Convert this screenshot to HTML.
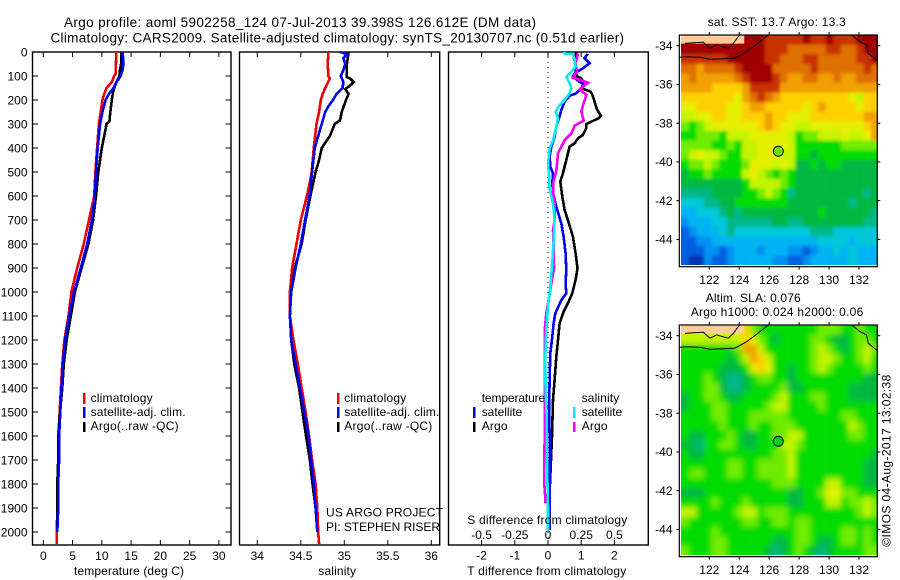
<!DOCTYPE html>
<html lang="en">
<head>
<meta charset="utf-8">
<title>Argo profile 5902258_124</title>
<style>
html,body{margin:0;padding:0;background:#fff;width:900px;height:580px;overflow:hidden}
svg{display:block}
text{font-family:"Liberation Sans",sans-serif;font-size:12px;fill:#000}
text.big{font-size:13.5px}
</style>
</head>
<body>
<svg id="chart" xmlns="http://www.w3.org/2000/svg" width="900" height="580" viewBox="0 0 900 580">
  <defs>
    <filter id="blur-sst" x="-5%" y="-5%" width="110%" height="110%"><feGaussianBlur stdDeviation="1.6"/></filter>
    <filter id="blur-sla" x="-5%" y="-5%" width="110%" height="110%"><feGaussianBlur stdDeviation="3"/></filter>
    <clipPath id="clip-sst"><rect x="681" y="35" width="196.3" height="230"/></clipPath>
    <clipPath id="clip-sla"><rect x="681" y="325" width="196.3" height="230"/></clipPath>
  </defs>
  <text class="big" x="64" y="27" textLength="472" lengthAdjust="spacing">Argo profile: aoml 5902258_124 07-Jul-2013 39.398S 126.612E (DM data)</text>
  <text class="big" x="50.5" y="42.5" textLength="573.5" lengthAdjust="spacing">Climatology: CARS2009. Satellite-adjusted climatology: synTS_20130707.nc (0.51d earlier)</text>
  <g id="layer-plots"></g>
  <g id="layer-maps"></g>

  <text x="74" y="575" textLength="110" lengthAdjust="spacing">temperature (deg C)</text>
  <text x="318.3" y="575" textLength="37.7" lengthAdjust="spacing">salinity</text>
  <text x="467.3" y="575" textLength="159" lengthAdjust="spacing">T difference from climatology</text>
  <text x="467.3" y="524" textLength="160" lengthAdjust="spacing">S difference from climatology</text>

  <g>
    <rect x="83" y="393" width="2.5" height="11" fill="#f00000"/>
    <rect x="83" y="407" width="2.5" height="11" fill="#0000f0"/>
    <rect x="83" y="422" width="2.5" height="10" fill="#000"/>
    <text x="90.6" y="402" textLength="62" lengthAdjust="spacing">climatology</text>
    <text x="90.6" y="416" textLength="95" lengthAdjust="spacing">satellite-adj. clim.</text>
    <text x="90.6" y="430" textLength="88" lengthAdjust="spacing">Argo(..raw -QC)</text>
  </g>
  <g>
    <rect x="337" y="393" width="2.5" height="11" fill="#f00000"/>
    <rect x="337" y="407" width="2.5" height="11" fill="#0000f0"/>
    <rect x="337" y="422" width="2.5" height="10" fill="#000"/>
    <text x="344.3" y="402" textLength="62" lengthAdjust="spacing">climatology</text>
    <text x="344.3" y="416" textLength="95" lengthAdjust="spacing">satellite-adj. clim.</text>
    <text x="344.3" y="430" textLength="88" lengthAdjust="spacing">Argo(..raw -QC)</text>
    <text x="326" y="516.7" textLength="117" lengthAdjust="spacing">US ARGO PROJECT</text>
    <text x="326" y="531" textLength="114" lengthAdjust="spacing">PI: STEPHEN RISER</text>
  </g>
  <g>
    <text x="481.7" y="402" textLength="63.5" lengthAdjust="spacing">temperature</text>
    <text x="481.7" y="416" textLength="40.5" lengthAdjust="spacing">satellite</text>
    <text x="481.7" y="430" textLength="25.8" lengthAdjust="spacing">Argo</text>
    <text x="581.7" y="402" textLength="37.5" lengthAdjust="spacing">salinity</text>
    <text x="581.7" y="416" textLength="40.5" lengthAdjust="spacing">satellite</text>
    <text x="581.7" y="430" textLength="25.8" lengthAdjust="spacing">Argo</text>
    <rect x="473" y="407" width="2.5" height="11" fill="#0000f0"/>
    <rect x="473" y="422" width="2.5" height="10" fill="#000"/>
    <rect x="573" y="407" width="2.5" height="11" fill="#00f0f0"/>
    <rect x="573" y="422" width="2.5" height="10" fill="#f000f0"/>
  </g>

  <text x="707.7" y="26" textLength="138" lengthAdjust="spacing">sat. SST: 13.7 Argo: 13.3</text>
  <text x="705.7" y="302" textLength="95" lengthAdjust="spacing">Altim. SLA: 0.076</text>
  <text x="690.7" y="316" textLength="172.6" lengthAdjust="spacing">Argo h1000: 0.024 h2000: 0.06</text>
  <text transform="translate(890.7 546.7) rotate(-90)" x="0" y="0" textLength="172" lengthAdjust="spacing">©IMOS 04-Aug-2017 13:02:38</text>
</svg>

<script>
// ---- profile data ----
const depthTicks = [0,100,200,300,400,500,600,700,800,900,1000,1100,1200,1300,1400,1500,1600,1700,1800,1900,2000];
const tempTicks = [0,5,10,15,20,25,30];
const salTicks = [34,34.5,35,35.5,36];
const salTickLabels = ['34','34.5','35','35.5','36'];
const tDiffTicks = [-2,-1,0,1,2];
const sDiffTicks = [-0.5,-0.25,0,0.25,0.5];
const sDiffTickLabels = ['-0.5','-0.25','0','0.25','0.5'];

const tempClimDepth = [0,50,90,100,125,150,175,200,250,300,400,500,600,700,800,900,1000,1100,1200,1300,1400,1500,1600,1700,1800,1900,2000,2050];
const tempClim = [12.5,12.4,12.4,12.1,11.7,10.8,10.4,10.1,9.8,9.5,9.2,8.9,8.7,7.8,6.9,5.8,4.8,4.3,3.6,3.25,3.0,2.8,2.55,2.55,2.4,2.4,2.3,2.3];
const tempSatDepth = [0,50,75,100,125,150,175,200,250,300,400,500,600,700,800,900,1000,1100,1200,1300,1400,1500,1600,1700,1800,1900,2000];
const tempSat = [13.55,13.7,13.55,13.2,12.5,12.0,11.2,10.65,10.1,9.7,9.3,9.0,8.8,8.3,7.5,6.4,5.25,4.4,3.75,3.35,3.1,2.9,2.7,2.7,2.55,2.55,2.4];
const tempArgoDepth = [0,50,75,100,125,150,175,200,250,290,300,350,400,450,500,600,700,800,900,1000,1100,1200,1300,1400,1500,1600,1700,1800,1900,2000];
const tempArgo = [13.3,13.3,13.1,13,12.5,12.1,11.85,11.7,11.45,11.3,10.8,10.4,10,9.7,9.4,9,8.5,7.7,6.55,5.4,4.7,4,3.5,3.25,2.85,2.6,2.55,2.4,2.4,2.4];

const salClimDepth = [0,50,100,110,150,175,200,250,300,400,500,550,600,700,800,900,1000,1100,1200,1300,1400,1500,1600,1700,1800,1900,2000,2050];
const salClim = [34.816,34.81,34.816,34.835,34.78,34.75,34.73,34.71,34.68,34.65,34.625,34.6,34.57,34.5,34.45,34.4,34.375,34.375,34.415,34.465,34.51,34.555,34.595,34.63,34.67,34.69,34.7,34.71];
const salSatDepth = [0,10,25,50,75,100,125,150,175,200,225,250,300,350,400,500,600,700,800,900,1000,1100,1200,1300,1400,1500,1600,1700,1800,1900,2000];
const salSat = [34.95,35.04,34.99,35.01,34.99,34.96,34.99,34.98,34.91,34.87,34.82,34.78,34.74,34.70,34.66,34.63,34.60,34.55,34.50,34.44,34.39,34.375,34.39,34.44,34.49,34.54,34.59,34.62,34.65,34.67,34.69];
const salArgoDepth = [0,50,105,110,125,140,155,175,200,250,285,300,350,400,450,500,600,700,800,900,1000,1100,1200,1300,1400,1500,1600,1700,1800,1900,2000];
const salArgo = [35.05,35.03,35.03,35.065,35.11,35.065,35.01,35.05,35.02,34.97,34.95,34.89,34.835,34.74,34.71,34.67,34.61,34.555,34.51,34.43,34.39,34.375,34.39,34.425,34.48,34.52,34.56,34.605,34.635,34.67,34.69];

const tDiffArgoDepth = [0,25,50,75,100,110,125,140,150,165,180,200,225,240,265,275,290,300,318,346,360,381,394,450,506,540,603,658,714,769,839,901,950,1006,1047,1082,1131,1200,1270,1367,1450,1603,1825,1992];
const tDiffArgo = [.87,.78,.82,.83,.87,1.0,1.07,1.05,1.0,1.28,1.34,1.39,1.44,1.48,1.59,1.54,1.31,1.15,1.15,1.05,.90,.80,.65,.55,.45,.37,.43,.50,.63,.75,.83,.89,.83,.73,.60,.47,.35,.30,.25,.20,.15,.12,.05,.03];
const tDiffSatDepth = [8,26,47,68,89,103,124,131,144,172,183,207,242,276,311,353,394,436,478,506,547,589,644,714,769,839,908,964,1006,1034,1089,1131,1186,1256,1353,1478,1617,1825,1992];
const tDiffSat = [1.20,1.10,1.25,1.05,.80,.75,.95,1.05,1.07,.85,.65,.50,.40,.33,.25,.20,.10,.05,.07,.15,.13,.15,.25,.40,.47,.53,.55,.53,.55,.40,.22,.17,.13,.07,.05,.03,.05,.05,.05];
const sDiffSatDepth = [6,8,33,61,82,103,131,151,172,200,221,249,276,325,367,401,464,519,575,631,700,783,867,978,1061,1159,1270,1409,1548,1687,1895,1992];
const sDiffSat = [.113,.188,.2,.208,.176,.138,.163,.176,.163,.126,.088,.058,.075,.058,.038,.013,0,.008,.013,.038,.05,.043,.033,.018,0,-.013,-.02,-.018,-.008,-.008,0,0];
const sDiffArgoDepth = [6,47,82,107,128,156,179,221,249,286,307,339,367,422,492,547,589,631,700,742,811,901,1089,1159,1242,1381,1548,1798,1881];
const sDiffArgo = [.226,.208,.218,.188,.301,.238,.289,.264,.251,.269,.2,.176,.126,.075,.063,.038,.038,.05,.05,.038,.043,.045,-.013,-.025,-.025,-.023,-.025,-.028,-.018];

// ---- map data: colour levels on half-degree cells, null = land ----
const mapLonTicks = [122,124,126,128,130,132];
const mapLatTicks = [-34,-36,-38,-40,-42,-44];
const sstLevels = [
[null,null,null,null,null,null,null,null,15,15,15,14,14,14,14,14,15,14,14,15,14,14,14,15,15,15],
[15,15,15,15,15,15,15,15,15,15,15,14,14,14,13,13,13,13,13,14,14,13,13,14,15,15],
[14,14,14,14,14,14,15,15,15,15,15,14,14,13,13,13,14,14,13,13,13,13,13,14,14,15],
[13,13,12,13,13,13,13,14,15,15,15,15,13,13,13,13,13,14,13,13,13,13,13,13,14,13],
[12,13,12,12,12,12,12,13,14,15,15,15,14,13,12,12,13,13,12,12,13,12,12,13,13,13],
[12,12,12,12,11,11,11,11,12,14,14,14,14,12,12,12,12,12,12,12,12,12,12,12,12,12],
[11,11,11,11,11,11,11,10,12,13,14,13,12,11,11,11,11,11,11,11,11,11,10,9,11,11],
[10,10,11,11,11,11,10,10,11,12,12,11,11,11,11,11,10,11,12,11,11,11,11,10,11,11],
[9,9,10,10,11,11,10,10,11,11,11,12,11,11,10,10,10,11,11,11,11,11,11,11,12,12],
[8,7,8,9,10,10,10,10,10,10,11,12,11,10,10,9,9,10,10,10,10,10,10,10,11,12],
[7,7,8,8,8,7,9,9,9,10,10,10,10,10,9,7,8,8,9,9,9,10,9,9,10,12],
[8,8,8,8,7,7,8,7,9,9,10,10,10,10,9,7,7,7,7,7,7,8,8,8,8,8],
[8,9,10,9,9,8,7,7,9,9,10,10,10,9,9,7,7,6,7,7,7,7,7,7,7,7],
[7,8,8,9,8,7,7,7,8,10,10,10,9,10,9,6,6,7,6,7,7,6,6,6,6,6],
[6,7,7,8,7,7,7,7,9,10,9,8,7,8,7,6,6,6,6,6,6,6,6,6,6,6],
[6,6,6,6,6,6,6,6,7,9,9,9,9,8,7,6,6,6,6,6,6,6,6,6,6,6],
[5,5,5,5,6,6,6,6,7,7,8,9,8,7,5,6,6,6,6,6,6,6,6,6,5,6],
[4,4,4,5,5,6,6,7,7,7,7,7,7,7,6,6,6,6,6,6,6,6,5,6,6,6],
[3,3,4,4,4,5,6,5,6,6,6,6,6,6,6,6,6,6,7,6,6,6,6,6,6,5],
[2,3,3,3,4,4,5,5,5,5,5,5,6,6,5,5,6,6,6,6,6,6,6,6,5,5],
[1,2,3,3,3,4,5,4,4,4,4,4,4,4,4,4,4,5,5,5,4,4,4,4,4,4],
[1,1,2,2,3,3,3,3,3,3,3,3,3,3,3,3,3,3,4,4,4,4,3,4,4,4],
[1,1,1,2,2,1,2,3,3,3,2,3,3,3,2,2,1,2,3,3,4,3,4,3,3,3],
[1,0,0,2,1,1,2,3,3,3,3,3,2,2,1,1,2,3,3,3,3,3,4,3,3,3]
];
const slaLevels = [
[null,null,null,null,null,null,null,null,11,8,7,7,7,7,7,7,7,7,8,8,8,7,7,8,7,7],
[9,9,9,9,9,9,9,9,11,10,8,7,6,7,7,7,7,8,8,7,6,6,7,8,8,7],
[7,7,7,7,7,7,7,8,12,12,9,7,7,7,7,7,7,8,9,8,7,6,7,8,9,8],
[7,7,7,7,7,7,6,7,9,12,11,9,7,7,7,7,7,8,9,9,8,7,7,8,9,7],
[7,7,7,7,7,6,6,6,7,10,11,10,7,7,6,7,7,8,9,8,7,7,7,7,8,7],
[7,7,7,8,7,6,5,5,6,7,8,8,7,7,6,7,7,7,7,7,7,7,7,7,6,6],
[7,7,7,8,8,6,5,5,6,7,7,7,7,8,6,6,7,7,7,7,7,7,6,6,6,6],
[6,7,7,8,8,7,6,6,7,7,7,7,8,9,7,7,7,8,8,7,7,7,6,6,6,6],
[6,7,7,7,8,8,7,7,7,7,7,8,9,9,7,7,7,7,8,7,7,7,7,7,7,7],
[7,7,7,7,8,8,7,7,7,8,8,8,8,8,7,7,7,7,7,7,7,8,8,7,7,7],
[7,7,7,7,7,8,7,7,7,8,7,7,8,8,8,7,7,7,7,7,7,7,9,8,7,7],
[7,6,6,7,7,7,8,7,6,6,7,7,8,8,9,9,7,7,7,7,7,7,8,8,7,7],
[6,6,5,7,7,8,8,7,6,6,7,7,7,9,9,8,7,7,7,7,7,7,7,7,7,7],
[7,6,6,7,7,7,7,7,7,7,7,7,8,8,9,7,7,7,7,7,7,7,7,7,7,6],
[7,7,7,7,7,7,8,8,7,7,8,8,8,8,9,7,7,7,7,7,7,7,7,7,6,6],
[7,8,8,7,7,7,8,8,7,7,8,8,8,8,9,7,7,7,7,7,7,7,7,7,6,6],
[7,7,7,7,7,7,7,7,7,7,7,7,8,8,8,7,7,7,7,9,9,7,7,7,6,6],
[6,6,6,7,7,7,7,7,7,7,7,7,7,7,6,6,7,7,8,10,10,8,8,7,7,7],
[7,7,7,7,8,7,7,7,8,7,7,7,7,7,6,6,7,7,7,9,9,7,8,8,9,8],
[9,9,7,7,7,7,7,8,9,9,7,8,8,8,7,7,7,7,7,7,7,7,7,8,9,8],
[8,7,7,7,7,7,7,7,8,8,7,7,8,8,7,8,8,7,7,7,7,7,7,7,7,7],
[7,7,7,7,8,7,7,7,7,7,7,7,7,7,7,8,8,7,7,7,7,8,8,7,8,7],
[7,7,7,7,8,8,7,7,7,7,7,7,6,6,7,8,8,7,6,6,7,8,8,7,8,7],
[8,7,7,7,8,8,7,7,7,7,7,6,5,6,7,8,7,6,5,6,7,7,7,7,8,8]
];
const coastSouthLon = [120.0,120.49,121.38,122.05,122.94,123.72,124.5,125.39,125.94];
const coastSouthLat = [-34.6,-34.57,-34.6,-34.7,-34.67,-34.64,-34.31,-33.79,-33.45];
const coastNorthLon = [120.38,120.93,121.6,122.05,122.49,123.27,123.6,123.94,124.05];
const coastNorthLat = [-33.88,-33.85,-33.82,-34.13,-33.96,-34.13,-33.88,-33.53,-33.45];
const coastEastLon = [131.51,132.07,132.51,132.62,133.22];
const coastEastLat = [-33.45,-33.79,-33.96,-34.39,-34.77];
const argoLon = 126.612;
const argoLat = -39.45;

// ---- scales ----
const SVGNS = 'http://www.w3.org/2000/svg';
const plotTop = 52, plotBottom = 545;
const yDepth = d => plotTop + d * 0.24;
const xTemp = v => 43.3 + v * 5.853;
const xSal = v => 257.3 + (v - 34) * 87;
const xTDiff = v => 548 + v * 33.2;
const xSDiff = v => 548 + v * 33.2 * 4;
const xLon = lon => 709.3 + (lon - 122) * 14.97;
const yLat = (lat, top) => top + 10.7 + (-34 - lat) * 19.37;
const levelColours = ['#0030b4','#0060e0','#0090f0','#00b4f4','#00c8d8','#00b888','#00b840','#00dc00','#70ec00','#c4f400','#e4f000','#ffd000','#f0a000','#e07000','#c83000','#a00000'];
const levelColour = l => l === null ? '#ffcc99' : levelColours[l];

const plots = document.getElementById('layer-plots');
const maps = document.getElementById('layer-maps');
function node(parent, tag, attrs, txt) {
  const el = document.createElementNS(SVGNS, tag);
  for (const k in attrs) el.setAttribute(k, attrs[k]);
  if (txt !== undefined) el.textContent = txt;
  parent.appendChild(el);
  return el;
}
function polyPoints(xs, ys, fx, fy) {
  const n = Math.min(xs.length, ys.length), p = [];
  for (let i = 0; i < n; i++) p.push(fx(xs[i]).toFixed(1) + ',' + fy(ys[i]).toFixed(1));
  return p.join(' ');
}
function drawProfile(values, depths, fx, colour, name) {
  const el = node(plots, 'polyline', {points: polyPoints(values, depths, fx, yDepth), fill: 'none', stroke: colour, 'stroke-width': 2.6, 'shape-rendering': 'crispEdges'});
  
  
}
function drawFrame(x0, x1, name) {
  const el = node(plots, 'rect', {x: x0, y: plotTop, width: x1 - x0, height: plotBottom - plotTop, fill: 'none', stroke: '#000', 'stroke-width': 1.4});
  
  
}
function drawXTicks(ticks, labels, fx, labelY, top, bottom, name) {
  ticks.forEach((t, i) => {
    const x = fx(t);
    if (top) {
      const a = node(plots, 'line', {x1: x, x2: x, y1: plotTop, y2: plotTop + 5, stroke: '#000'});
      
      
    }
    if (bottom) {
      const b = node(plots, 'line', {x1: x, x2: x, y1: plotBottom, y2: plotBottom - 5, stroke: '#000'});
      
      
    }
    const lab = node(plots, 'text', {x: x, y: labelY, 'text-anchor': 'middle'}, labels[i]);
    
    
  });
}

// ---- profile panels ----
drawFrame(32.5, 231, 'temperature-panel-frame');
drawFrame(239.5, 439.7, 'salinity-panel-frame');
drawFrame(448.5, 648.3, 'difference-panel-frame');

depthTicks.forEach(d => {
  const y = yDepth(d);
  const l = node(plots, 'line', {x1: 32.5, x2: 38, y1: y, y2: y, stroke: '#000'});
  
  
  const r = node(plots, 'line', {x1: 225.5, x2: 231, y1: y, y2: y, stroke: '#000'});
  
  
  const lab = node(plots, 'text', {x: 27.5, y: y + 4.3, 'text-anchor': 'end'}, String(d));
  
  
});
drawXTicks(tempTicks, tempTicks.map(String), xTemp, 560, true, true, 'temperature');
drawXTicks(salTicks, salTickLabels, xSal, 560, true, true, 'salinity');
drawXTicks(tDiffTicks, tDiffTicks.map(String), xTDiff, 559.5, true, true, 't-difference');
drawXTicks(sDiffTicks, sDiffTickLabels, xSDiff, 539, false, false, 's-difference');

const zeroLine = node(plots, 'line', {x1: xTDiff(0), x2: xTDiff(0), y1: plotTop, y2: plotBottom, stroke: '#000', 'stroke-dasharray': '1 4'});



drawProfile(tempClim, tempClimDepth, xTemp, '#f00000', 'temperature-climatology-line');
drawProfile(tempArgo, tempArgoDepth, xTemp, '#000000', 'temperature-argo-line');
drawProfile(tempSat, tempSatDepth, xTemp, '#0000f0', 'temperature-satellite-line');
drawProfile(salClim, salClimDepth, xSal, '#f00000', 'salinity-climatology-line');
drawProfile(salArgo, salArgoDepth, xSal, '#000000', 'salinity-argo-line');
drawProfile(salSat, salSatDepth, xSal, '#0000f0', 'salinity-satellite-line');
drawProfile(tDiffArgo, tDiffArgoDepth, xTDiff, '#000000', 't-difference-argo-line');
drawProfile(tDiffSat, tDiffSatDepth, xTDiff, '#0000f0', 't-difference-satellite-line');
drawProfile(sDiffArgo, sDiffArgoDepth, xSDiff, '#f000f0', 's-difference-argo-line');
drawProfile(sDiffSat, sDiffSatDepth, xSDiff, '#00f0f0', 's-difference-satellite-line');

// ---- maps ----
const lonStart = 120.12, lonStep = 0.508, latStart = -33.45, latStep = 0.495;
function drawMap(levels, top, name, dotColour, blurId, clipId) {
  const frameH = 231.7;
  const clipGroup = node(maps, 'g', {'clip-path': 'url(#' + clipId + ')'});
  
  
  const blurGroup = node(clipGroup, 'g', {filter: 'url(#' + blurId + ')'});
  
  
  const lastRow = levels.length - 1;
  levels.forEach((row, r) => {
    const lastCol = row.length - 1;
    row.forEach((lvl, c) => {
      let x0 = xLon(lonStart + c * lonStep), x1 = xLon(lonStart + (c + 1) * lonStep);
      let y0 = yLat(latStart - r * latStep, top), y1 = yLat(latStart - (r + 1) * latStep, top);
      if (c === 0) x0 -= 8;
      if (c === lastCol) x1 += 8;
      if (r === 0) y0 -= 8;
      if (r === lastRow) y1 += 8;
      const shown = lvl === null ? levels[r + 1][c] : lvl;
      const cell = node(blurGroup, 'rect', {x: x0.toFixed(2), y: y0.toFixed(2), width: (x1 - x0 + 0.3).toFixed(2), height: (y1 - y0 + 0.3).toFixed(2), fill: levelColour(shown)});
      
      
    });
  });
  levels.forEach((row, r) => {
    row.forEach((lvl, c) => {
      if (lvl !== null) return;
      const x0 = xLon(lonStart + c * lonStep), x1 = xLon(lonStart + (c + 1) * lonStep);
      const y0 = yLat(latStart - r * latStep, top), y1 = yLat(latStart - (r + 1) * latStep, top);
      const land = node(clipGroup, 'rect', {x: (c === 0 ? x0 - 2 : x0).toFixed(2), y: y0.toFixed(2), width: (x1 - x0 + 2.3).toFixed(2), height: (y1 - y0 - 1).toFixed(2), fill: levelColour(null)});
      
      
    });
  });
  const coasts = [[coastSouthLon, coastSouthLat, 'south'], [coastNorthLon, coastNorthLat, 'north'], [coastEastLon, coastEastLat, 'east']];
  coasts.forEach(cs => {
    const line = node(maps, 'polyline', {points: polyPoints(cs[0], cs[1], xLon, la => yLat(la, top)), fill: 'none', stroke: '#000', 'stroke-width': 1});
    
    
  });
  const frame = node(maps, 'rect', {x: 679.3, y: top, width: 198, height: frameH, fill: 'none', stroke: '#000', 'stroke-width': 1.2});
  
  
  const dot = node(maps, 'circle', {cx: xLon(argoLon), cy: yLat(argoLat, top), r: 5, fill: dotColour, stroke: '#000', 'stroke-width': 1});
  
  
  mapLonTicks.forEach(lon => {
    const x = xLon(lon);
    const t1 = node(maps, 'line', {x1: x, x2: x, y1: top - 3, y2: top, stroke: '#000'});
    
    
    const t2 = node(maps, 'line', {x1: x, x2: x, y1: top + frameH, y2: top + frameH + 3, stroke: '#000'});
    
    
    const lab = node(maps, 'text', {x: x, y: top + 249, 'text-anchor': 'middle'}, String(lon));
    
    
  });
  mapLatTicks.forEach(lat => {
    const y = yLat(lat, top);
    const t1 = node(maps, 'line', {x1: 676.3, x2: 679.3, y1: y, y2: y, stroke: '#000'});
    
    
    const t2 = node(maps, 'line', {x1: 877.3, x2: 880.3, y1: y, y2: y, stroke: '#000'});
    
    
    const lab = node(maps, 'text', {x: 672.5, y: y + 4.3, 'text-anchor': 'end'}, String(lat));
    
    
  });
}
drawMap(sstLevels, 35, 'sst-map', '#70e000', 'blur-sst', 'clip-sst');
drawMap(slaLevels, 325, 'sla-map', '#00d020', 'blur-sla', 'clip-sla');
</script>
</body>
</html>
